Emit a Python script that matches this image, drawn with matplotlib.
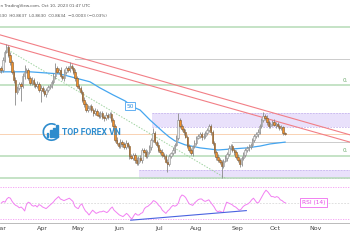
import matplotlib
matplotlib.use("Agg")
import matplotlib.pyplot as plt
from matplotlib.patches import Rectangle, Arc
import numpy as np

# ---------------- data ----------------
first_open = 0.8830
closes = [
    0.8839, 0.8852, 0.8845, 0.8878, 0.8905, 0.8921, 0.8895, 0.8872, 0.8839, 0.8812,
    0.8773, 0.8786, 0.8799, 0.8792, 0.8825, 0.8839, 0.8845, 0.8819, 0.8802, 0.8812,
    0.8799, 0.8792, 0.8799, 0.8779, 0.8786, 0.8776, 0.8766, 0.8779, 0.8789, 0.8792,
    0.8806, 0.8825, 0.8852, 0.8839, 0.8845, 0.8825, 0.8819, 0.8839, 0.8852, 0.8845,
    0.8858, 0.8852, 0.8839, 0.8819, 0.8792, 0.8786, 0.8773, 0.8746, 0.8733, 0.8713,
    0.8720, 0.8726, 0.8713, 0.8703, 0.8710, 0.8697, 0.8693, 0.8703, 0.8690, 0.8687,
    0.8697, 0.8690, 0.8700, 0.8680, 0.8660, 0.8614, 0.8604, 0.8594, 0.8608, 0.8601,
    0.8591, 0.8604, 0.8594, 0.8561, 0.8555, 0.8565, 0.8548, 0.8538, 0.8555, 0.8548,
    0.8581, 0.8575, 0.8561, 0.8575, 0.8591, 0.8614, 0.8637, 0.8608, 0.8598, 0.8581,
    0.8575, 0.8565, 0.8561, 0.8542, 0.8535, 0.8561, 0.8571, 0.8581, 0.8598, 0.8621,
    0.8680, 0.8660, 0.8650, 0.8641, 0.8624, 0.8594, 0.8581, 0.8571, 0.8594, 0.8604,
    0.8621, 0.8627, 0.8634, 0.8624, 0.8627, 0.8637, 0.8647, 0.8660, 0.8641, 0.8604,
    0.8575, 0.8558, 0.8548, 0.8542, 0.8528, 0.8545, 0.8555, 0.8568, 0.8588, 0.8594,
    0.8581, 0.8575, 0.8558, 0.8548, 0.8535, 0.8555, 0.8565, 0.8581, 0.8588, 0.8591,
    0.8598, 0.8614, 0.8627, 0.8634, 0.8641, 0.8660, 0.8680, 0.8693, 0.8687, 0.8674,
    0.8660, 0.8667, 0.8674, 0.8664, 0.8667, 0.8660, 0.8654, 0.8657, 0.8637, 0.8634,
]
# wick lengths above / below the body, in pips
wick_hi = [
    6, 8, 5, 9, 7, 10, 6, 8, 5, 7,
    9, 6, 8, 7, 10, 23, 6, 8, 5, 9,
    7, 6, 10, 5, 8, 6, 9, 7, 6, 8,
    5, 9, 16, 7, 6, 10, 5, 8, 7, 6,
    14, 7, 6, 9, 5, 8, 6, 7, 9, 6,
    8, 5, 7, 6, 9, 5, 8, 6, 7, 5,
    9, 6, 8, 5, 7, 6, 9, 5, 8, 6,
    7, 9, 5, 6, 8, 7, 5, 9, 6, 8,
    7, 6, 9, 5, 8, 6, 17, 7, 6, 8,
    5, 9, 6, 7, 8, 6, 5, 9, 7, 8,
    23, 6, 8, 5, 9, 7, 6, 8, 5, 9,
    6, 8, 7, 5, 9, 6, 7, 8, 6, 5,
    8, 6, 9, 5, 7, 6, 8, 5, 9, 6,
    7, 8, 5, 9, 6, 7, 8, 5, 6, 9,
    5, 8, 6, 7, 9, 6, 8, 13, 7, 9,
    6, 8, 5, 9, 7, 6, 8, 5, 4, 3,
]
wick_lo = [
    7, 5, 9, 6, 8, 5, 7, 9, 6, 10,
    43, 8, 6, 50, 7, 9, 5, 8, 6, 7,
    9, 6, 8, 7, 40, 6, 8, 9, 5, 7,
    8, 6, 9, 5, 7, 8, 6, 9, 7, 5,
    6, 8, 7, 9, 5, 7, 8, 6, 9, 7,
    5, 8, 6, 9, 7, 5, 8, 6, 7, 9,
    6, 8, 5, 7, 9, 6, 8, 7, 5, 9,
    8, 6, 7, 9, 5, 8, 10, 7, 6, 8,
    9, 5, 7, 8, 6, 9, 5, 8, 7, 6,
    8, 7, 9, 5, 26, 8, 6, 7, 9, 5,
    6, 8, 7, 9, 5, 7, 8, 6, 9, 7,
    8, 5, 7, 9, 6, 8, 7, 5, 9, 6,
    7, 9, 6, 8, 39, 7, 5, 9, 6, 8,
    6, 9, 7, 8, 10, 6, 8, 7, 5, 9,
    7, 6, 8, 5, 9, 7, 6, 8, 7, 9,
    6, 8, 7, 5, 9, 6, 8, 7, 5, 4,
]
rsi = [
    50, 52, 51, 55, 57, 56, 52, 49, 47, 46,
    44, 45, 43, 40, 48, 51, 50, 47, 46, 47,
    45, 48, 47, 45, 44, 43, 45, 47, 49, 51,
    54, 56, 58, 55, 54, 53, 54, 55, 56, 54,
    52, 46, 44, 43, 47, 49, 44, 40, 38, 35,
    38, 41, 39, 37, 38, 39, 39, 40, 39, 38,
    40, 43, 45, 41, 39, 37, 35, 34, 33, 35,
    37, 35, 32, 30, 34, 37, 35, 35, 37, 38,
    43, 45, 46, 48, 50, 53, 52, 50, 47, 45,
    41, 39, 37, 40, 42, 45, 47, 46, 47, 50,
    57, 60, 59, 57, 53, 49, 48, 47, 50, 52,
    54, 55, 55, 53, 52, 53, 54, 51, 48, 45,
    41, 39, 40, 39, 38, 45, 51, 50, 49, 48,
    46, 45, 43, 41, 42, 45, 47, 48, 49, 51,
    54, 56, 53, 50, 51, 55, 59, 63, 66, 64,
    61, 58, 58, 57, 58, 57, 54, 53, 51, 50,
]
month_labels = ["Mar", "Apr", "May", "Jun", "Jul", "Aug", "Sep", "Oct", "Nov"]
month_pos = [-0.8, 23, 43, 66, 88, 109, 132, 153, 176]

ma50_idx = [1.4, 18.0, 34.6, 42.9, 51.2, 56.7, 63.9, 70.6, 75.0, 78.9, 84.4,
            91.6, 95.0, 98.2, 103.8, 112.1, 122.0, 128.7, 138.1, 145.3, 150.8, 159.1]
ma50_val = [0.8839, 0.8839, 0.8832, 0.8819, 0.8806, 0.8786, 0.8763, 0.8743, 0.8723,
            0.8713, 0.8680, 0.8641, 0.8624, 0.8611, 0.8598, 0.8588, 0.8581, 0.8584,
            0.8588, 0.8594, 0.8601, 0.8607]

green_levels = [0.8988, 0.8797, 0.8561, 0.8489]
grey_levels = [0.8881, 0.8607]
grey_starts = [43, 130]
last_price = 0.8634
channel_x = [1.44, 195.0]
channel_upper = [0.8961, 0.8631]
channel_lower = [0.8934, 0.8607]
trend_x = [5.9, 125.9]
trend_y = [0.8911, 0.8489]
zone_upper = (85.5, 0.8657, 0.8703)   # start index, low, high
zone_lower = (78.3, 0.8489, 0.8515)
rsi_div_x = [72.3, 137.0]
rsi_div_y = [28.5, 40.5]

# ---------------- figure ----------------
W, H = 350, 250
fig = plt.figure(figsize=(3.5, 2.5), dpi=100)
fig.patch.set_facecolor("white")


def rect(top, bottom, left=0, right=W):
    return [left / W, 1 - bottom / H, (right - left) / W, (bottom - top) / H]


XMIN, XMAX = 1.44, 195.0
ax = fig.add_axes(rect(0, 183))
axr = fig.add_axes(rect(183, 223))
ax.set_xlim(XMIN, XMAX)
axr.set_xlim(XMIN, XMAX)
ax.set_ylim(0.84721, 0.9076)
axr.set_ylim(25, 75)
for a in (ax, axr):
    for s in a.spines.values():
        s.set_visible(False)
    a.set_yticks([])
ax.set_xticks([])
axr.spines["bottom"].set_visible(True)
axr.spines["bottom"].set_color("#b0b0b0")
axr.spines["bottom"].set_linewidth(0.6)
axr.set_xticks(month_pos)
axr.set_xticklabels(month_labels)
axr.tick_params(axis="x", length=0, pad=2.5, labelsize=4.5, labelcolor="#444444")

# zones
for (x0, lo, hi) in (zone_upper, zone_lower):
    ax.add_patch(Rectangle((x0, lo), XMAX - x0 + 5, hi - lo, facecolor="#e9e1fb",
                           edgecolor="none", zorder=0))
    ax.hlines([lo, hi], x0, XMAX + 5, colors="#c7b6ee", linestyles=(0, (2, 1.5)),
              linewidth=0.6, zorder=0.5)

# horizontal levels
ax.hlines(green_levels, XMIN, XMAX, colors="#b5dbb6", linewidth=1.1, zorder=1)
for lv, st in zip(grey_levels, grey_starts):
    ax.hlines(lv, st, XMAX, colors="#8a8a8a", linestyles=(0, (1.2, 1.2)),
              linewidth=0.6, zorder=1)
ax.axhline(last_price, color="#f9d2b3", linewidth=0.7, zorder=1)

# trend lines
ax.plot(channel_x, channel_upper, color="#f27f86", linewidth=0.8, zorder=2)
ax.plot(channel_x, channel_lower, color="#f27f86", linewidth=0.8, zorder=2)
ax.plot(trend_x, trend_y, color="#9fd3a0", linewidth=0.7,
        linestyle=(0, (1.5, 1.5)), zorder=2)

# moving average
ax.plot(ma50_idx, ma50_val, color="#45a6f0", linewidth=0.9, zorder=3)
ax.text(73.3, 0.8725, "50", fontsize=4.2, color="#2f8fe0", ha="center", va="center",
        zorder=6, bbox=dict(boxstyle="square,pad=0.25", fc="white", ec="#4aa3f0", lw=0.6))

# candles
x = np.arange(len(closes))
c = np.array(closes)
o = np.array([first_open] + closes[:-1])
top = np.maximum(o, c)
bot = np.minimum(o, c)
hi = top + np.array(wick_hi) * 1e-4
lo = bot - np.array(wick_lo) * 1e-4
ax.vlines(x, lo, hi, colors="#8a8a8a", linewidth=0.6, zorder=4)
up = c >= o
body_h = np.maximum(top - bot, 0.00008)
ax.bar(x[up], body_h[up], bottom=bot[up], width=0.8, color="#eeeeee",
       edgecolor="#8a8a8a", linewidth=0.4, zorder=5)
ax.bar(x[~up], body_h[~up], bottom=bot[~up], width=0.8, color="#f2912a",
       edgecolor="#7a5630", linewidth=0.4, zorder=5)

# RSI pane
axr.axhline(70, color="#f49af4", linewidth=0.6, linestyle=(0, (1.5, 1.5)))
axr.axhline(30, color="#f49af4", linewidth=0.6, linestyle=(0, (1.5, 1.5)))
axr.axhline(50, color="#d3d3d3", linewidth=0.5, linestyle=(0, (2.5, 2)))
axr.plot(x, rsi, color="#f27ff2", linewidth=0.7)
axr.plot(rsi_div_x, rsi_div_y, color="#4a63e0", linewidth=0.8)
axr.text(174.8, 50.6, "RSI (14)", fontsize=4.2, color="#e64ce6", ha="center",
         va="center", bbox=dict(boxstyle="square,pad=0.3", fc="white", ec="#ef6bef", lw=0.6))

# header text
fig.text(-2 / W, 1 - 6 / H, "on TradingView.com, Oct 10, 2023 01:47 UTC", fontsize=3.0,
         color="#555555", ha="left", va="center")
fig.text(-1 / W, 1 - 16 / H, "630  H0.8637  L0.8630  C0.8634  \u22120.0003 (\u22120.03%)",
         fontsize=3.0, color="#555555", ha="left", va="center")

# right-side level labels
fig.text(343 / W, 1 - 80 / H, "0.", fontsize=4, color="#6aa86a", ha="left", va="center")
fig.text(343 / W, 1 - 151 / H, "0.", fontsize=4, color="#6aa86a", ha="left", va="center")

# watermark logo
logo_col = "#2e8ccd"
fig.text(62 / W, 1 - 132.5 / H, "TOP FOREX VN", fontsize=6.2, fontweight="bold",
         family="Roboto", color=logo_col, ha="left", va="center")
axi = fig.add_axes(rect(122, 142, 42, 61))
axi.set_xlim(-1.1, 1.1)
axi.set_ylim(-1.1, 1.1)
axi.set_aspect("equal")
axi.axis("off")
axi.add_patch(Arc((0, 0), 1.9, 1.9, theta1=60, theta2=330, color=logo_col, lw=1.2))
for bx, bh in zip([-0.45, -0.1, 0.25, 0.6], [0.5, 0.8, 1.1, 1.4]):
    axi.add_patch(Rectangle((bx - 0.1, -0.6), 0.2, bh, color=logo_col))

fig.savefig("out.png", dpi=100, facecolor="white")
